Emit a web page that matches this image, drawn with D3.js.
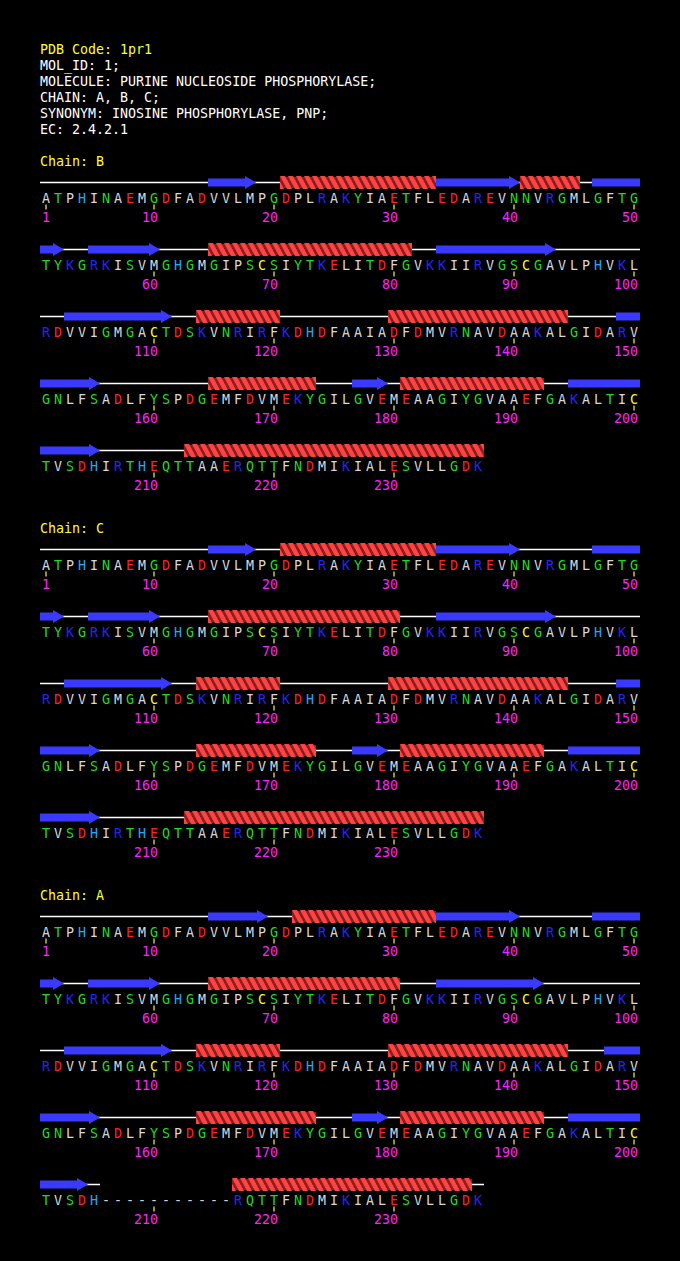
<!DOCTYPE html>
<html>
<head>
<meta charset="utf-8">
<script src="https://cdn.jsdelivr.net/npm/d3@7"></script>
<style>
  html, body { margin: 0; padding: 0; background: #000; }
  svg { display: block; }
</style>
</head>
<body>
<svg id="chart"></svg>
<script>
// ---------------- DATA ----------------
const pdbCode = "1pr1";
const headerLines = [
  "MOL_ID: 1;",
  "MOLECULE: PURINE NUCLEOSIDE PHOSPHORYLASE;",
  "CHAIN: A, B, C;",
  "SYNONYM: INOSINE PHOSPHORYLASE, PNP;",
  "EC: 2.4.2.1"
];
const sequence = ("ATPHINAEMGDFADVVLMPGDPLRAKYIAETFLEDAREVNNVRGMLGFTG" +
                  "TYKGRKISVMGHGMGIPSCSIYTKELITDFGVKKIIRVGSCGAVLPHVKL" +
                  "RDVVIGMGACTDSKVNRIRFKDHDFAAIADFDMVRNAVDAAKALGIDARV" +
                  "GNLFSADLFYSPDGEMFDVMEKYGILGVEMEAAGIYGVAAEFGAKALTIC" +
                  "TVSDHIRTHEQTTAAERQTTFNDMIKIALESVLLGDK").split("");
const chainNames = ["B", "C", "A"];
const helicesB = [[21,33],[41,45],[65,81],[114,120],[130,144],[165,173],[181,192],[213,237]];
const strandsB = [[15,18],[34,40],[47,52],[55,60],[84,93],[103,111],[149,155],[177,179],[195,205]];
const missingB = [];
const helicesC = [[21,33],[65,80],[114,120],[130,144],[164,173],[181,192],[213,237]];
const strandsC = [[15,18],[34,40],[47,52],[55,60],[84,93],[103,111],[149,155],[177,179],[195,205]];
const missingC = [];
const helicesA = [[22,33],[65,80],[114,120],[130,144],[164,173],[181,192],[217,236]];
const strandsA = [[15,19],[34,40],[47,52],[55,60],[84,92],[103,111],[148,155],[177,179],[195,204]];
const missingA = [[206,216]];
const tickResidues = [1,10,20,30,40,50,60,70,80,90,100,110,120,130,140,150,160,170,180,190,200,210,220,230];

// residue class colouring
const acidic = ["D","E"], basic = ["K","R"], histidine = ["H"],
      polar = ["G","N","Q","S","T","Y"], cysteine = ["C"];

// ---------------- SETUP ----------------
const W = 680, H = 1261;
const perRow = 50;
const nRows = Math.ceil(sequence.length / perRow);
const chainsData = [
  { name: chainNames[0], helices: helicesB, strands: strandsB, missing: missingB },
  { name: chainNames[1], helices: helicesC, strands: strandsC, missing: missingC },
  { name: chainNames[2], helices: helicesA, strands: strandsA, missing: missingA }
];

const svg = d3.select("#chart").attr("width", W).attr("height", H)
  .style("background", "#000");

const FONT = "'DejaVu Sans Mono', 'Liberation Mono', monospace";
const FS = "13.3px";

const x = d3.scaleLinear().domain([1, perRow]).range([46, 46 + (perRow - 1) * 12]);
const cell = 12;
const rowY = d3.scaleLinear().domain([0, 1]).range([0, 67]);
const chainY = d3.scaleLinear().domain([0, 1]).range([182.5, 182.5 + 367]);

const colour = r => acidic.includes(r) ? "#ff2020"
  : basic.includes(r) ? "#2424ff"
  : histidine.includes(r) ? "#20a8ff"
  : polar.includes(r) ? "#20dc20"
  : cysteine.includes(r) ? "#ffff20"
  : "#d8d8d8";

// helix stripe pattern (twisted ribbon look)
const defs = svg.append("defs");
const pat = defs.append("pattern").attr("id", "helixPat")
  .attr("patternUnits", "userSpaceOnUse").attr("width", 8).attr("height", 13);
pat.append("rect").attr("x", 0).attr("y", 1).attr("width", 8).attr("height", 11).attr("fill", "#8a1e1e");
pat.append("polygon").attr("points", "0,0 5,0 12,13 7,13").attr("fill", "#ff4242");
pat.append("polygon").attr("points", "-8,0 -3,0 4,13 -1,13").attr("fill", "#ff4242");

// ---------------- HEADER ----------------
svg.append("text").attr("x", 40).attr("y", 53.5)
  .attr("font-family", FONT).attr("font-size", FS).attr("fill", "#ffff20")
  .text("PDB Code: " + pdbCode);
svg.selectAll("text.hdr").data(headerLines).enter().append("text")
  .attr("class", "hdr").attr("x", 40).attr("y", (d, i) => 69.5 + i * 16)
  .attr("font-family", FONT).attr("font-size", FS).attr("fill", "#ffffff")
  .text(d => d);

// ---------------- CHAINS ----------------
const inRanges = (n, ranges) => ranges.some(([a, b]) => n >= a && n <= b);

chainsData.forEach((ch, ci) => {
  const base = chainY(ci);
  const g = svg.append("g");
  g.append("text").attr("x", 40).attr("y", base - 17)
    .attr("font-family", FONT).attr("font-size", FS).attr("fill", "#ffff20")
    .text("Chain: " + ch.name);

  for (let r = 0; r < nRows; r++) {
    const y = base + rowY(r);
    const first = r * perRow + 1;
    const last = Math.min((r + 1) * perRow, sequence.length);
    const pos = n => n - r * perRow;
    const left = n => x(pos(n)) - cell / 2;
    const right = n => x(pos(n)) + cell / 2;

    // coil line: contiguous runs of present residues
    const runs = [];
    let cur = null;
    for (let n = first; n <= last; n++) {
      if (inRanges(n, ch.missing)) { if (cur) { runs.push(cur); cur = null; } }
      else { if (!cur) cur = [n, n]; else cur[1] = n; }
    }
    if (cur) runs.push(cur);
    g.selectAll(null).data(runs).enter().append("line")
      .attr("x1", d => left(d[0])).attr("x2", d => right(d[1]))
      .attr("y1", y).attr("y2", y)
      .attr("stroke", "#ffffff").attr("stroke-width", 1.6);

    // strands
    const strandSegs = ch.strands
      .filter(([a, b]) => b >= first && a <= last)
      .map(([a, b]) => ({ s: Math.max(a, first), e: Math.min(b, last), head: b <= last }));
    g.selectAll(null).data(strandSegs).enter().append("path")
      .attr("fill", "#3a3aff")
      .attr("d", d => {
        const x0 = left(d.s), x1 = right(d.e);
        if (!d.head) return `M${x0},${y - 4}H${x1}V${y + 4}H${x0}Z`;
        const hx = x1 - 11;
        return `M${x0},${y - 4}H${hx}V${y - 6.5}L${x1},${y}L${hx},${y + 6.5}V${y + 4}H${x0}Z`;
      });

    // helices
    const helixSegs = ch.helices
      .filter(([a, b]) => b >= first && a <= last)
      .map(([a, b]) => ({ s: Math.max(a, first), e: Math.min(b, last) }));
    const hg = g.selectAll(null).data(helixSegs).enter().append("g")
      .attr("transform", d => `translate(${left(d.s)},${y - 6.5})`);
    hg.append("rect").attr("x", 0).attr("y", 0)
      .attr("width", d => right(d.e) - left(d.s)).attr("height", 13)
      .attr("fill", "url(#helixPat)");

    // residues
    const residues = d3.range(first, last + 1).map(n => ({
      n, r: inRanges(n, ch.missing) ? "-" : sequence[n - 1]
    }));
    g.selectAll(null).data(residues).enter().append("text")
      .attr("x", d => x(pos(d.n))).attr("y", y + 20)
      .attr("text-anchor", "middle")
      .attr("font-family", FONT).attr("font-size", FS)
      .attr("fill", d => colour(d.r)).text(d => d.r);

    // ticks and numbers
    const ticks = tickResidues.filter(n => n >= first && n <= last);
    g.selectAll(null).data(ticks).enter().append("line")
      .attr("x1", d => x(pos(d))).attr("x2", d => x(pos(d)))
      .attr("y1", y + 22).attr("y2", y + 27)
      .attr("stroke", "#ffff20").attr("stroke-width", 1.2);
    g.selectAll(null).data(ticks).enter().append("text")
      .attr("x", d => x(pos(d)) + 4).attr("y", y + 39.5)
      .attr("text-anchor", "end")
      .attr("font-family", FONT).attr("font-size", FS)
      .attr("fill", "#ff20ff").text(d => d);
  }
});
</script>
</body>
</html>
